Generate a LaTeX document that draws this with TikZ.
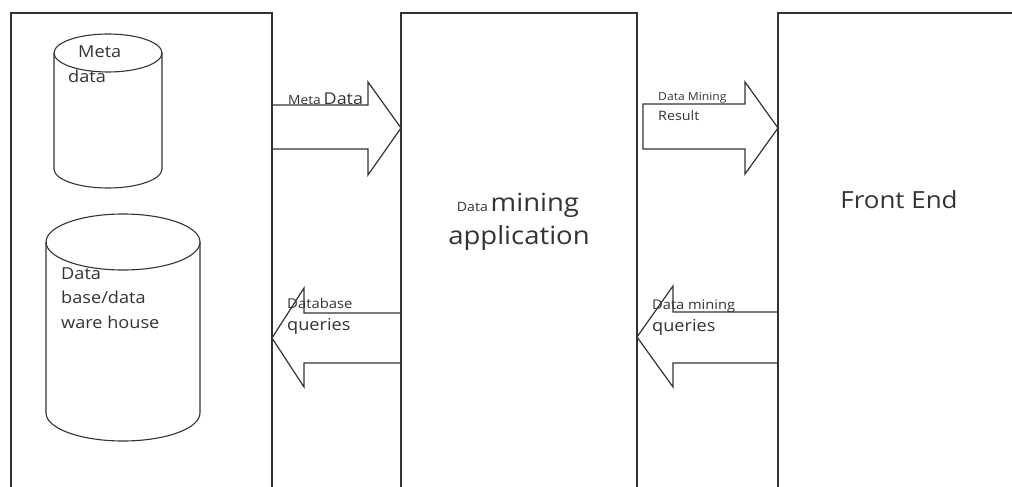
\documentclass[tikz,border=0pt]{standalone}
\usepackage{fontspec}
\setmainfont{Open Sans}[FakeStretch=1.1]
\usetikzlibrary{positioning,calc}
\newcommand{\fsz}[1]{\fontsize{#1}{#1}\selectfont}

\begin{document}
\begin{tikzpicture}[x=1pt,y=-1pt,
  panel/.style={draw=black!80,line width=1.3pt,anchor=north west,outer sep=0pt,inner sep=0pt,minimum height=520},
  store/.style={draw=black!80,line width=1.1pt},
  blockarrow/.style={draw=black!80,line width=1.2pt,line join=miter},
  txt/.style={anchor=base west,inner sep=0pt,text=black!80}]
  \useasboundingbox (0,0) rectangle (1012,487);
  \clip (0,0) rectangle (1012,487);
  % the three panels run off the bottom
  \node[panel,minimum width=261] (warehouse) at (11,13) {};
  \node[panel,minimum width=236] (miner) at (401,13) {};
  \node[panel,minimum width=260] (frontend) at (778,13) {};
  % stores
  \draw[store] (108,53) ellipse [x radius=54, y radius=19];
  \draw[store] (54,53) -- (54,169) arc[start angle=180, end angle=0, x radius=54, y radius=19] -- (162,53);
  \draw[store] (123,242) ellipse [x radius=77, y radius=28];
  \draw[store] (46,242) -- (46,413) arc[start angle=180, end angle=0, x radius=77, y radius=28] -- (200,242);
  \node[txt,font=\fsz{16.5}] (metaone) at (78,58) {Meta};
  \node[txt,font=\fsz{16.5}] (metatwo) at (68,82) {data};
  \node[txt,font=\fsz{16.5}] (dbone) at (61,279) {Data};
  \node[txt,font=\fsz{16.5}] (dbtwo) at (61,303) {base/data};
  \node[txt,font=\fsz{16.5}] (dbthree) at (61,328) {ware house};
  % block arrows
  \draw[blockarrow] (warehouse.north east |- 0,105) -- (368,105) -- (368,82) -- (miner.north west |- 0,128)
    -- (368,175) -- (368,149) -- (warehouse.north east |- 0,149);
  \draw[blockarrow] ($(miner.north east |- 0,104)+(6,0)$) -- (745,104) -- (745,82) -- (frontend.north west |- 0,128)
    -- (745,174) -- (745,149) -- ($(miner.north east |- 0,149)+(6,0)$) -- cycle;
  \draw[blockarrow] (miner.north west |- 0,313) -- (304,313) -- (304,288) -- (warehouse.north east |- 0,338)
    -- (304,387) -- (304,363) -- (miner.north west |- 0,363);
  \draw[blockarrow] (frontend.north west |- 0,312) -- (673,312) -- (673,286) -- (miner.north east |- 0,337)
    -- (673,387) -- (673,363) -- (frontend.north west |- 0,363);
  \node[txt] (metaflow) at (288,104) {{\fsz{12.5}Meta} {\fsz{16.3}Data}};
  \node[txt,font=\fsz{11}] (resone) at (658,100) {Data Mining};
  \node[txt,font=\fsz{13}] (restwo) at (658,120) {Result};
  \node[txt,font=\fsz{13.5}] (dbqone) at (287,308) {Database};
  \node[txt,font=\fsz{16.5}] (dbqtwo) at (287,330) {queries};
  \node[txt,font=\fsz{13.3}] (dmqone) at (652,309) {Data mining};
  \node[txt,font=\fsz{16.5}] (dmqtwo) at (652,331) {queries};
  % panel captions
  \node[txt,anchor=base] (appone) at (518,211) {{\fsz{12.8}Data} {\fsz{25}mining}};
  \node[txt,anchor=base] (apptwo) at (519,244) {\fsz{25}application};
  \node[txt,anchor=base] (fename) at (899,208) {\fsz{23.6}Front End};
\end{tikzpicture}
\end{document}
